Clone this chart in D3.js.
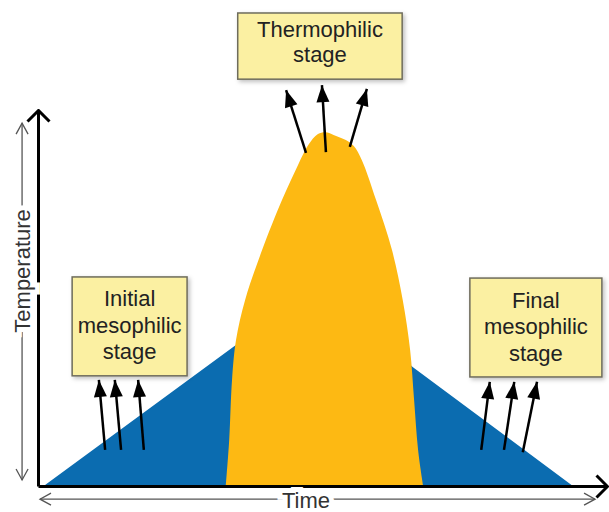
<!DOCTYPE html>
<html>
<head>
<meta charset="utf-8">
<script src="https://cdn.jsdelivr.net/npm/d3@7"></script>
<style>
  body { margin: 0; background: #fff; }
  text { font-family: "Liberation Sans", Arial, sans-serif; }
</style>
</head>
<body>
<div id="chart"></div>
<script>
// blue curve: overall temperature profile (time %, temperature %)
var blueTime = [1.0, 34.3, 49.9, 65.9, 94.0]
var blueTemp = [0, 37.0, 53.5, 31.6, 0]

// yellow outline: thermophilic phase, traced from bottom-left over the top to bottom-right
var yellowTime = [33.0, 33.6, 34.1, 34.8, 36.4, 39.4, 42.9, 45.7, 47.5, 49.2, 50.6, 52.4, 54.1, 55.5, 56.9, 59.4, 62.2, 64.1, 65.4, 66.1, 66.8, 67.7]
var yellowTemp = [0, 12.2, 28.2, 38.8, 49.5, 62.8, 76.1, 85.4, 90.7, 93.6, 94.1, 93.1, 92.0, 90.4, 86.7, 76.1, 62.8, 49.5, 36.2, 22.9, 9.6, 0]

// stage labels
var stageLabels = [
    ["Thermophilic", "stage"],
    ["Initial", "mesophilic", "stage"],
    ["Final", "mesophilic", "stage"]
]
// label boxes in data units: [time0, time1, temp top, temp bottom]
var stageBoxes = [
    [35.1, 64.0, 125.8, 108.2],
    [6.0, 26.2, 55.6, 29.3],
    [75.9, 99.1, 55.3, 29.0]
]
// arrows [tail time, tail temp, tip time, tip temp]
var stageArrows = [
    [47.1, 88.6, 43.6, 105.3], [50.6, 88.8, 49.9, 106.6], [54.8, 90.2, 57.8, 105.6],
    [11.8, 9.6, 10.7, 28.2], [14.6, 9.6, 13.5, 28.2], [18.6, 9.6, 17.6, 28.2],
    [77.9, 9.6, 79.4, 27.7], [81.9, 9.6, 83.7, 27.7], [85.2, 9.0, 87.7, 27.7]
]

var width = 609, height = 512

var svg = d3.select('#chart')
    .append('svg')
    .attr('width', width)
    .attr('height', height)

var x = d3.scaleLinear().domain([0, 100]).range([38, 607])
var y = d3.scaleLinear().domain([0, 100]).range([486, 110])

var defs = svg.append('defs')

defs.append('marker')
    .attr('id', 'chevron')
    .attr('markerUnits', 'userSpaceOnUse')
    .attr('viewBox', '-14 -14 16 28')
    .attr('markerWidth', 16).attr('markerHeight', 28)
    .attr('refX', 0).attr('refY', 0)
    .attr('orient', 'auto')
    .append('path')
    .attr('d', 'M-11,-11L0,0L-11,11')
    .attr('fill', 'none').attr('stroke', '#000').attr('stroke-width', 3)

defs.append('marker')
    .attr('id', 'thin')
    .attr('markerUnits', 'userSpaceOnUse')
    .attr('viewBox', '-12 -8 14 16')
    .attr('markerWidth', 14).attr('markerHeight', 16)
    .attr('refX', 0).attr('refY', 0)
    .attr('orient', 'auto-start-reverse')
    .append('path')
    .attr('d', 'M-11,-6L0,0L-11,6')
    .attr('fill', 'none').attr('stroke', '#555').attr('stroke-width', 1.3)

defs.append('marker')
    .attr('id', 'head')
    .attr('markerUnits', 'userSpaceOnUse')
    .attr('viewBox', '-18 -8 19 16')
    .attr('markerWidth', 19).attr('markerHeight', 16)
    .attr('refX', 0).attr('refY', 0)
    .attr('orient', 'auto')
    .append('path')
    .attr('d', 'M-17,-6.5L0,0L-17,6.5Z')
    .attr('fill', '#000')

var shadow = defs.append('filter').attr('id', 'shadow')
    .attr('x', '-10%').attr('y', '-10%').attr('width', '125%').attr('height', '130%')
shadow.append('feDropShadow')
    .attr('dx', 2).attr('dy', 2).attr('stdDeviation', 2)
    .attr('flood-color', '#000').attr('flood-opacity', 0.25)

// blue area
var blueArea = d3.area()
    .x(function (d, i) { return x(blueTime[i]) })
    .y0(y(0))
    .y1(function (d, i) { return y(blueTemp[i]) })

svg.append('path')
    .attr('d', blueArea(blueTime))
    .attr('fill', '#0b6cb0')

// yellow blob
var yellowLine = d3.line()
    .x(function (d, i) { return x(yellowTime[i]) })
    .y(function (d, i) { return y(yellowTemp[i]) })
    .curve(d3.curveCatmullRom)

svg.append('path')
    .attr('d', yellowLine(yellowTime) + 'Z')
    .attr('fill', '#fdb913')

// main axes
var xAxis = svg.append('g')
    .attr('transform', 'translate(0,' + y(0) + ')')
    .call(d3.axisBottom(x).ticks(0).tickSizeOuter(0))
var yAxis = svg.append('g')
    .attr('transform', 'translate(' + x(0) + ',0)')
    .call(d3.axisLeft(y).ticks(0).tickSizeOuter(0))

svg.selectAll('.domain')
    .attr('stroke', '#000')
    .attr('stroke-width', 3)
    .attr('marker-end', 'url(#chevron)')

// thin double arrows with titles
svg.append('line')
    .attr('x1', x(-2.8)).attr('x2', x(-2.8))
    .attr('y1', y(1.6)).attr('y2', y(96.5))
    .attr('stroke', '#555').attr('stroke-width', 1.3)
    .attr('marker-start', 'url(#thin)').attr('marker-end', 'url(#thin)')

svg.append('line')
    .attr('x1', x(0.35)).attr('x2', x(97.9))
    .attr('y1', y(-3.5)).attr('y2', y(-3.5))
    .attr('stroke', '#555').attr('stroke-width', 1.3)
    .attr('marker-start', 'url(#thin)').attr('marker-end', 'url(#thin)')

svg.append('text')
    .attr('transform', 'translate(' + (x(-2.8) + 7.5) + ',' + y(57.2) + ')rotate(-90)')
    .attr('text-anchor', 'middle')
    .style('font-size', '22px')
    .attr('fill', '#333')
    .attr('stroke', '#fff').attr('stroke-width', 10).attr('paint-order', 'stroke')
    .text('Temperature')

svg.append('text')
    .attr('x', x(47.1)).attr('y', y(-5.9))
    .attr('text-anchor', 'middle')
    .style('font-size', '22px')
    .attr('fill', '#333')
    .attr('stroke', '#fff').attr('stroke-width', 10).attr('paint-order', 'stroke')
    .text('Time')

// label boxes
stageBoxes.map(function (b, i) {
    var x0 = x(b[0]), x1 = x(b[1]), y0 = y(b[2]), y1 = y(b[3])
    svg.append('rect')
        .attr('x', x0).attr('y', y0)
        .attr('width', x1 - x0).attr('height', y1 - y0)
        .attr('fill', '#fbf0a2')
        .attr('stroke', '#6e6c5c')
        .attr('stroke-width', 1.5)
        .attr('filter', 'url(#shadow)')

    var lines = stageLabels[i]
    var lh = lines.length == 2 ? 25 : 26.5
    var cy = (y0 + y1) / 2 - (lines.length == 2 ? 4 : 1)
    lines.map(function (t, j) {
        svg.append('text')
            .attr('x', (x0 + x1) / 2)
            .attr('y', cy + (j - (lines.length - 1) / 2) * lh + 7.5)
            .attr('text-anchor', 'middle')
            .style('font-size', '22px')
            .attr('fill', '#222')
            .text(t)
    })
})

// arrows
svg.selectAll('.arrow')
    .data(stageArrows)
    .enter()
    .append('line')
    .attr('class', 'arrow')
    .attr('x1', function (d) { return x(d[0]) })
    .attr('y1', function (d) { return y(d[1]) })
    .attr('x2', function (d) { return x(d[2]) })
    .attr('y2', function (d) { return y(d[3]) })
    .attr('stroke', '#000')
    .attr('stroke-width', 2.5)
    .attr('marker-end', 'url(#head)')
</script>
</body>
</html>
